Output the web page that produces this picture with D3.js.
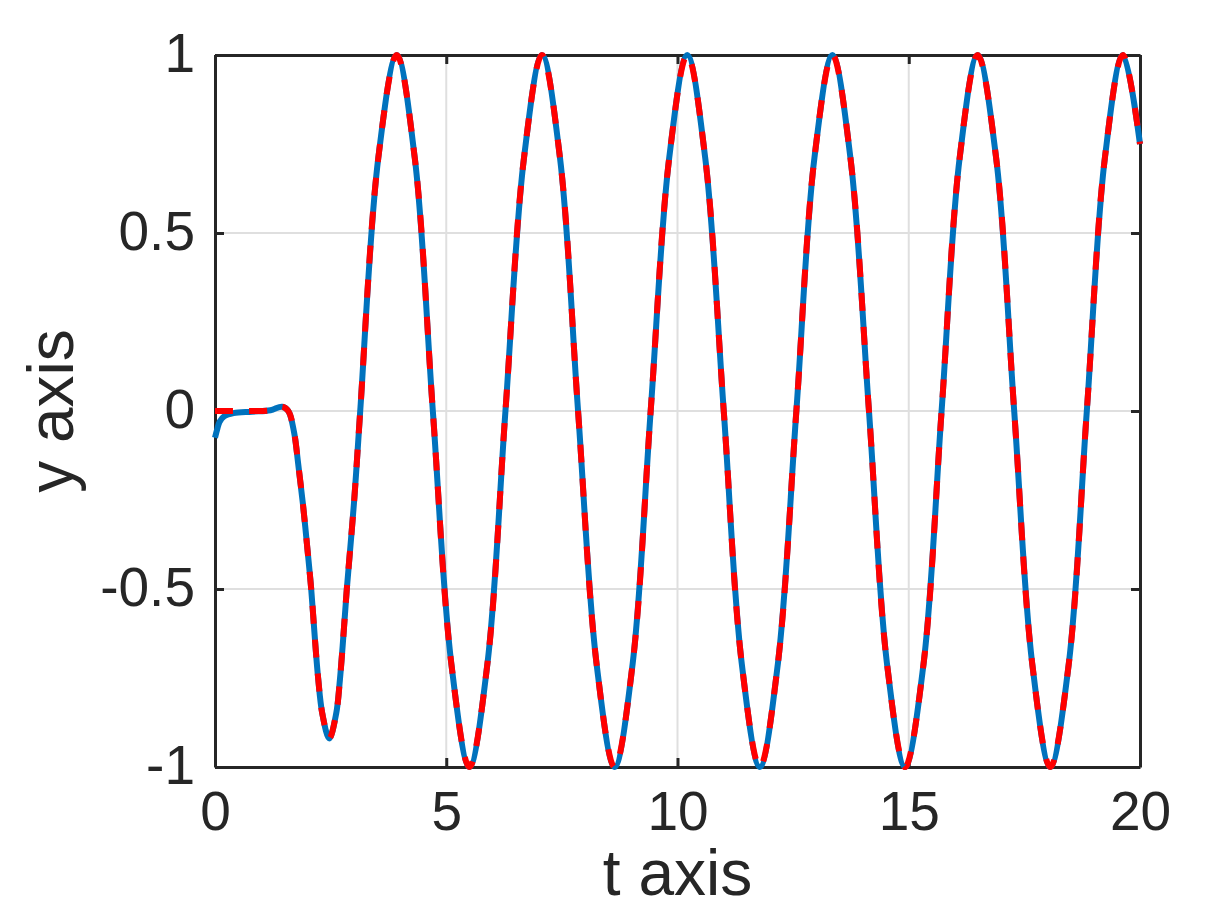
<!DOCTYPE html>
<html>
<head>
<meta charset="utf-8">
<script src="https://cdn.jsdelivr.net/npm/d3@7"></script>
<style>
  html, body { margin: 0; padding: 0; background: #fff; }
  svg { display: block; }
  text { font-family: "Liberation Sans", Arial, Helvetica, sans-serif; fill: #262626; }
</style>
</head>
<body>
<svg id="chart" width="1206" height="922"></svg>
<script>
// ---- data ----
const tVals = [0, 0.05, 0.1, 0.2, 0.4, 0.8, 1.2, 1.45, 1.585, 1.71, 1.80, 1.90, 2.00, 2.08,
  2.16, 2.23, 2.32, 2.47, 2.62, 2.70, 2.76, 2.85, 3.01, 3.14, 3.53, 3.93,
  4.32, 4.71, 5.11, 5.50, 5.89, 6.28, 6.68, 7.07, 7.46, 7.85, 8.25, 8.64, 9.03, 9.42, 9.82, 10.21,
  10.60, 11.00, 11.39, 11.78, 12.17, 12.57, 12.96, 13.35, 13.74, 14.14, 14.53, 14.92, 15.32, 15.71,
  16.10, 16.49, 16.89, 17.28, 17.67, 18.06, 18.46, 18.85, 19.24, 19.63, 20.0];

const blueVals = [-0.075, -0.05, -0.03, -0.015, -0.006, -0.002, 0.002, 0.012, 0, -0.06, -0.15, -0.26, -0.39, -0.5,
  -0.64, -0.75, -0.85, -0.92, -0.85, -0.756, -0.66, -0.5, -0.25, 0, 0.71, 1,
  0.71, 0, -0.71, -1, -0.71, 0, 0.71, 1, 0.71, 0, -0.71, -1, -0.71, 0, 0.71, 1,
  0.71, 0, -0.71, -1, -0.71, 0, 0.71, 1, 0.71, 0, -0.71, -1, -0.71, 0,
  0.71, 1, 0.71, 0, -0.71, -1, -0.71, 0, 0.71, 1, 0.75];

const redVals = [0, 0, 0, 0, 0, 0, 0.002, 0.012, 0, -0.06, -0.15, -0.26, -0.39, -0.5,
  -0.64, -0.75, -0.85, -0.92, -0.85, -0.756, -0.66, -0.5, -0.25, 0, 0.71, 1,
  0.71, 0, -0.71, -1, -0.71, 0, 0.71, 1, 0.71, 0, -0.71, -1, -0.71, 0, 0.71, 1,
  0.71, 0, -0.71, -1, -0.71, 0, 0.71, 1, 0.71, 0, -0.71, -1, -0.71, 0,
  0.71, 1, 0.71, 0, -0.71, -1, -0.71, 0, 0.71, 1, 0.75];

const xTicks = [0, 5, 10, 15, 20];
const xTickLabels = ["0", "5", "10", "15", "20"];
const yTicks = [-1, -0.5, 0, 0.5, 1];
const yTickLabels = ["-1", "-0.5", "0", "0.5", "1"];
const xLabel = "t axis";
const yLabel = "y axis";

// ---- layout ----
const L = 215, R = 1140, T = 55, B = 767;
const svg = d3.select("#chart");

const x = d3.scaleLinear().domain([0, 20]).range([L, R]);
const y = d3.scaleLinear().domain([-1, 1]).range([B, T]);

// grid
const grid = svg.append("g");
grid.selectAll("line.gx").data(xTicks.slice(1, -1)).enter().append("line")
  .attr("x1", d => x(d)).attr("x2", d => x(d)).attr("y1", T).attr("y2", B)
  .attr("stroke", "#dfdfdf").attr("stroke-width", 2);
grid.selectAll("line.gy").data(yTicks.slice(1, -1)).enter().append("line")
  .attr("x1", L).attr("x2", R).attr("y1", d => y(d)).attr("y2", d => y(d))
  .attr("stroke", "#dfdfdf").attr("stroke-width", 2);

// axes (box with inward ticks)
const tickLen = 9;
const axColor = "#262626";
const axB = d3.axisBottom(x).tickValues(xTicks).tickSize(-tickLen).tickSizeOuter(0).tickFormat((d, i) => xTickLabels[i]);
const axT = d3.axisTop(x).tickValues(xTicks).tickSize(-tickLen).tickSizeOuter(0).tickFormat("");
const axL = d3.axisLeft(y).tickValues(yTicks).tickSize(-tickLen).tickSizeOuter(0).tickFormat((d, i) => yTickLabels[i]);
const axR = d3.axisRight(y).tickValues(yTicks).tickSize(-tickLen).tickSizeOuter(0).tickFormat("");

function styleAxis(g) {
  g.selectAll("path.domain").attr("stroke", axColor).attr("stroke-width", 3);
  g.selectAll(".tick line").attr("stroke", axColor).attr("stroke-width", 3);
  g.selectAll(".tick text").attr("fill", axColor).style("font-family", '"Liberation Sans", Arial, sans-serif');
}

const gB = svg.append("g").attr("transform", `translate(0,${B})`).call(axB);
styleAxis(gB);
gB.selectAll(".tick text").attr("font-size", 55).attr("y", 0).attr("dy", 0)
  .attr("transform", "translate(0,63)");

const gT = svg.append("g").attr("transform", `translate(0,${T})`).call(axT);
styleAxis(gT);
const gL = svg.append("g").attr("transform", `translate(${L},0)`).call(axL);
styleAxis(gL);
gL.selectAll(".tick text").attr("font-size", 55).attr("x", -20).attr("dy", "0.3em")
  .attr("text-anchor", "end");
const gR = svg.append("g").attr("transform", `translate(${R},0)`).call(axR);
styleAxis(gR);

// axis labels
svg.append("text").attr("x", (L + R) / 2).attr("y", 895).attr("text-anchor", "middle")
  .attr("font-size", 64).text(xLabel);
svg.append("text").attr("transform", `translate(73,${(T + B) / 2}) rotate(-90)`)
  .attr("text-anchor", "middle").attr("font-size", 64).text(yLabel);

// curves
const line = d3.line().x(d => x(d[0])).y(d => y(d[1])).curve(d3.curveCatmullRom.alpha(0.5));
const blueData = tVals.map((t, i) => [t, blueVals[i]]);
const redData = tVals.map((t, i) => [t, redVals[i]]);

svg.append("path").datum(blueData).attr("d", line)
  .attr("fill", "none").attr("stroke", "#0072BD").attr("stroke-width", 6)
  .attr("stroke-linejoin", "round");
svg.append("path").datum(redData).attr("d", line)
  .attr("fill", "none").attr("stroke", "#FF0000").attr("stroke-width", 6)
  .attr("stroke-dasharray", "18,16");
</script>
</body>
</html>
